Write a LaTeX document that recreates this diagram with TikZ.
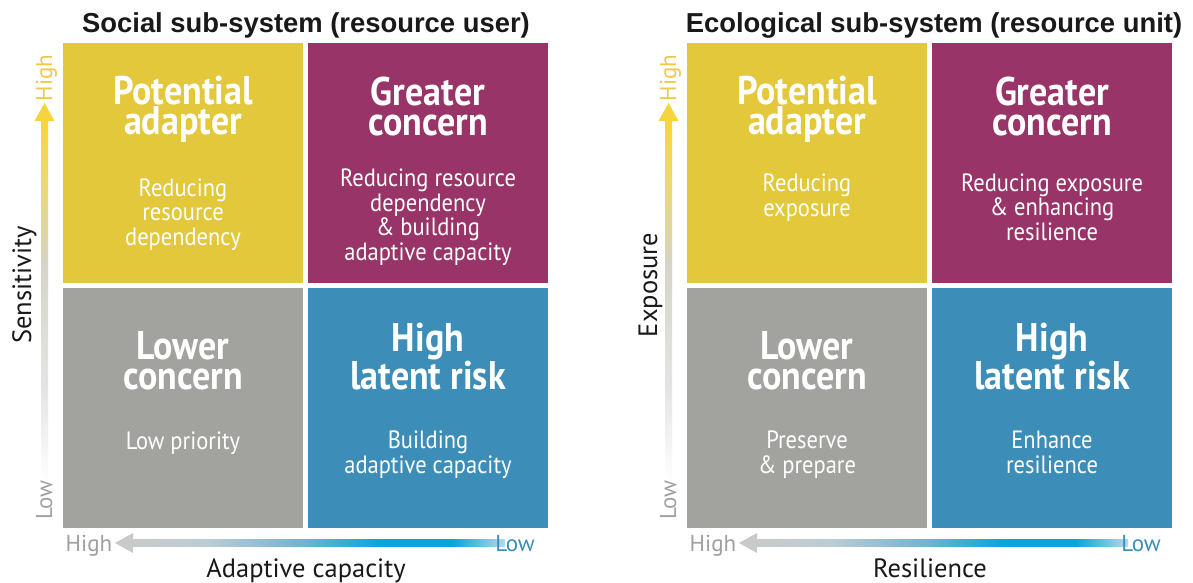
\documentclass[tikz,border=0pt]{standalone}
\usepackage{fontspec}
\setmainfont{PT Sans}
\newfontfamily\titlefont{Liberation Sans}
\newfontfamily\condfont[FakeStretch=0.9]{PT Sans}
\definecolor{cyel}{RGB}{226,200,58}
\definecolor{cmag}{RGB}{152,52,103}
\definecolor{cgry}{RGB}{162,163,158}
\definecolor{cblu}{RGB}{60,142,184}
\definecolor{ayel}{RGB}{247,212,62}
\definecolor{vsa}{RGB}{228,228,228}
\definecolor{vsb}{RGB}{214,212,198}
\definecolor{vsc}{RGB}{236,216,120}
\definecolor{hsa}{RGB}{200,202,202}
\definecolor{hsb}{RGB}{188,204,212}
\definecolor{hsc}{RGB}{110,180,210}
\definecolor{hsd}{RGB}{10,166,218}
\definecolor{hse}{RGB}{180,218,234}
\definecolor{lowgray}{RGB}{160,160,160}
\definecolor{highyel}{RGB}{240,202,70}
\definecolor{lowblue}{RGB}{60,142,184}
\pgfdeclareverticalshading{sensshade}{100bp}{color(0bp)=(white); color(25bp)=(white); color(38bp)=(vsa); color(55bp)=(vsb); color(66bp)=(vsc); color(75bp)=(ayel); color(100bp)=(ayel)}
\pgfdeclarehorizontalshading{acshade}{100bp}{color(0bp)=(hsa); color(25bp)=(hsa); color(35bp)=(hsb); color(48bp)=(hsc); color(58bp)=(hsd); color(68bp)=(hsd); color(75bp)=(hse); color(100bp)=(hse)}
\tikzset{
  quad/.style={minimum width=240pt, minimum height=240pt, inner sep=0pt, anchor=north west, draw=none},
  head/.style={font=\condfont\bfseries\fontsize{40}{30}\selectfont, text=white, align=center, anchor=base, inner sep=0pt},
  subt/.style={font=\condfont\fontsize{25}{24.5}\selectfont, text=white, align=center, anchor=base, inner sep=0pt},
  ttl/.style={font=\titlefont\bfseries\fontsize{27.4}{30}\selectfont, text=black!90, anchor=base, inner sep=0pt},
  axl/.style={font=\fontsize{26.5}{28}\selectfont, text=black!90, anchor=base, inner sep=0pt},
  tick/.style={font=\fontsize{23}{26}\selectfont, anchor=base, inner sep=0pt},
}
\begin{document}
\begin{tikzpicture}[x=1pt,y=-1pt]
\useasboundingbox (0,0) rectangle (1193,582);
\fill[white] (0,0) rectangle (1193,582);
% titles
\node[ttl] (lt) at (306,32) {Social sub-system (resource user)};
\node[ttl] (rt) at (934,32) {Ecological sub-system (resource unit)};
% left quadrants
\node[quad, fill=cyel] (lq1) at (63,43) {};
\node[quad, fill=cmag] (lq2) at (308,43) {};
\node[quad, fill=cgry] (lq3) at (63,288) {};
\node[quad, fill=cblu] (lq4) at (308,288) {};
% right quadrants
\node[quad, fill=cyel] (rq1) at (687,43) {};
\node[quad, fill=cmag] (rq2) at (932,43) {};
\node[quad, fill=cgry] (rq3) at (687,288) {};
\node[quad, fill=cblu] (rq4) at (932,288) {};
% left texts (anchor = baseline of last line)
\node[head] (lh1) at (183,134) {Potential\\adapter};
\node[subt] (ls1) at (183,245) {Reducing\\resource\\dependency};
\node[head] (lh2) at (428,135) {Greater\\concern};
\node[subt] (ls2) at (428,260) {Reducing resource\\dependency\\\& building\\adaptive capacity};
\node[head] (lh3) at (183,389) {Lower\\concern};
\node[subt] (ls3) at (183,449) {Low priority};
\node[head] (lh4) at (428,389) {High\\latent risk};
\node[subt] (ls4) at (428,473) {Building\\adaptive capacity};
% right texts
\node[head] (rh1) at (807,134) {Potential\\adapter};
\node[subt] (rs1) at (807,216) {Reducing\\exposure};
\node[head] (rh2) at (1052,135) {Greater\\concern};
\node[subt] (rs2) at (1052,240) {Reducing exposure\\\& enhancing\\resilience};
\node[head] (rh3) at (807,389) {Lower\\concern};
\node[subt] (rs3) at (807,473) {Preserve\\\& prepare};
\node[head] (rh4) at (1052,389) {High\\latent risk};
\node[subt] (rs4) at (1052,473) {Enhance\\resilience};
% left vertical arrow
\shade[shading=sensshade] (41,120) rectangle (48,482);
\fill[ayel] (34.5,121) -- (54.5,121) -- (44.5,103) -- cycle;
\node[tick, text=highyel, rotate=90] (lvh) at (52,78) {High};
\node[tick, text=lowgray, rotate=90] (lvl) at (52,500) {Low};
\node[axl, rotate=90] (lva) at (31,285) {Sensitivity};
% right vertical arrow
\shade[shading=sensshade] (665,120) rectangle (672,482);
\fill[ayel] (658.5,121) -- (678.5,121) -- (668.5,103) -- cycle;
\node[tick, text=highyel, rotate=90] (rvh) at (676,78) {High};
\node[tick, text=lowgray, rotate=90] (rvl) at (676,500) {Low};
\node[axl, rotate=90] (rva) at (657,285) {Exposure};
% left horizontal arrow
\shade[shading=acshade] (132,539.5) rectangle (505,546.5);
\fill[hsa] (133,533) -- (133,553) -- (115,543) -- cycle;
\node[tick, text=lowgray] (lhh) at (89,551) {High};
\node[tick, text=lowblue] (lhl) at (515,551) {Low};
\node[axl] (lha) at (306,577) {Adaptive capacity};
% right horizontal arrow
\shade[shading=acshade] (756,539.5) rectangle (1128,546.5);
\fill[hsa] (757,533) -- (757,553) -- (739,543) -- cycle;
\node[tick, text=lowgray] (rhh) at (713,551) {High};
\node[tick, text=lowblue] (rhl) at (1141,551) {Low};
\node[axl] (rha) at (930,577) {Resilience};
\end{tikzpicture}
\end{document}
